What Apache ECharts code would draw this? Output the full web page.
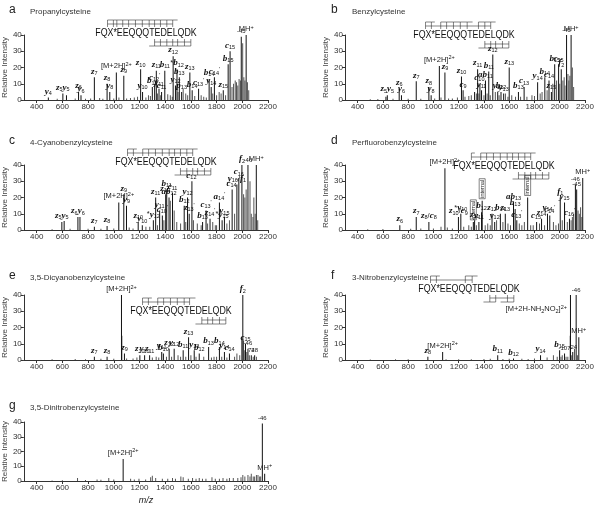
<!DOCTYPE html>
<html><head><meta charset="utf-8">
<script src="https://cdn.jsdelivr.net/npm/echarts@6/dist/echarts.min.js"></script>
<style>html,body{margin:0;padding:0;background:#fff}#c{width:600px;height:506px}</style>
</head><body><div id="c"></div>
<script>
// ---------- DATA ----------
const xTicks = [400, 600, 800, 1000, 1200, 1400, 1600, 1800, 2000, 2200];
const sequence = 'FQX*EEQQQTEDELQDK';

// a: Propanylcysteine
const aMz  = [491, 604, 632, 726, 745, 849, 948, 969, 1020, 1078, 1209, 1224, 1300, 1318, 1331, 1352, 1372, 1397, 1462, 1480, 1492, 1510, 1528, 1592, 1610, 1660, 1742, 1758, 1783, 1852, 1890, 1905, 1992, 2030];
const aInt = [1.5, 4, 3, 5, 3, 14, 10, 5, 17, 15, 19, 5, 8, 10, 18, 7, 5, 18, 27, 9, 19, 14, 5, 17, 6, 7, 13, 8, 14, 6, 22, 30, 39, 40];
const aLab = ["y_4","z_5y_5","","z_6","y_6","z_7","z_8","y_8","[M+2H]^2+","z_9","z_10","y_10","b_12","c_12^'","z_11","y_11","c_11","b_11","z_12","y_12","*b_12","b_13","p_13","z_13","b_14","c_13^'","b_14","y_14","c_14^'","z_15","b_15","c_15","-45","MH^+"];
const aMinMz  = [560, 700, 780, 820, 890, 915, 1000, 1040, 1100, 1130, 1160, 1185, 1250, 1270, 1285, 1340, 1365, 1420, 1440, 1455, 1500, 1540, 1560, 1575, 1630, 1680, 1700, 1720, 1770, 1800, 1820, 1835, 1870, 1920, 1932, 1945, 1955, 1965, 1975, 1985, 2003, 2012, 2020, 2040, 2050];
const aMinInt = [0.8, 1, 0.8, 1, 1.2, 0.8, 1, 1.5, 1, 1.2, 1.5, 2, 1.5, 3, 2.5, 4, 3, 3.5, 3, 2, 5, 7, 4, 3, 2.5, 3, 2, 1.5, 4, 3, 5, 4, 3, 8, 10, 12, 11, 9, 13, 12, 35, 14, 12, 11, 6];

// b: Benzylcysteine
const bMz  = [624, 635, 729, 747, 864, 964, 982, 1047, 1091, 1222, 1235, 1326, 1350, 1368, 1381, 1412, 1438, 1470, 1509, 1535, 1556, 1600, 1673, 1718, 1825, 1882, 1915, 1934, 1960, 1991, 2012, 2054, 2090];
const bInt = [2, 3, 7, 3, 11.5, 8, 3, 21, 17, 14.5, 6, 5, 19, 10, 6, 12, 17.5, 28, 5, 5, 4, 20, 5, 8, 11, 14, 12, 5, 22, 22, 19, 40, 40];
const bLab = ["", "z_5y_5", "z_6", "y_6", "z_7", "z_8", "y_8", "[M+2H]^2+", "z_9", "z_10", "c_9", "", "z_11", "c_10^'", "y_11", "ab_11", "b_11", "z_12", "y_12", "b_12", "y_13", "z_13", "b_13", "c_13", "y_14", "b_14", "c_14", "z_15", "b_15", "c_15", "f_2", "-45", "MH^+"];
const bMinMz  = [500, 560, 680, 800, 900, 1010, 1060, 1120, 1150, 1190, 1250, 1280, 1300, 1340, 1360, 1400, 1425, 1450, 1490, 1520, 1570, 1590, 1620, 1650, 1690, 1740, 1780, 1800, 1845, 1860, 1900, 1945, 1975, 2000, 2025, 2035, 2042, 2065, 2072, 2080, 2100, 2110];
const bMinInt = [0.5, 0.6, 0.8, 0.8, 0.8, 1, 1.5, 1, 1, 1.5, 2, 2.5, 3, 4, 4, 3, 4, 3, 5, 3, 4, 2, 3, 2, 2, 2, 3, 2.5, 4, 5, 6, 10, 12, 10, 12, 14, 9, 16, 12, 15, 20, 8];

// c: 4-Cyanobenzylcysteine
const cMz  = [596, 614, 721, 737, 849, 948, 1039, 1078, 1099, 1190, 1222, 1308, 1326, 1357, 1378, 1404, 1412, 1430, 1457, 1548, 1574, 1587, 1608, 1691, 1718, 1749, 1822, 1843, 1861, 1921, 1958, 1973, 1997, 2044, 2109];
const cInt = [5, 5.5, 8, 8, 2, 2.5, 17, 22, 15, 5, 3, 6, 20, 12, 9, 22, 25, 20, 23, 15, 20, 10, 30, 5, 12, 7, 17, 6, 8, 25, 28, 32, 40, 40, 40];
const cLab = ["z_5y_5","","z_6y_6","","z_7","z_8","[M+2H]^2+","z_9","y_9","z_10","y_10","*y_12","z_11","y_11","c_10^'","z_12^'","b_11","ab_12","c_11","b_12","y_12","z_13^'","c_12^'","b_13","c_13^'","z_14^'","a_14^'","*y_15","y_15","c_14^'","y_16/f_1","c_16","f_2","-46","MH^+"];
const cMinMz  = [520, 660, 800, 900, 1000, 1120, 1150, 1250, 1280, 1340, 1390, 1440, 1470, 1490, 1520, 1560, 1620, 1650, 1680, 1730, 1770, 1790, 1800, 1880, 1900, 1940, 2010, 2020, 2030, 2060, 2070, 2083, 2090, 2100, 2120];
const cMinInt = [0.5, 0.8, 0.8, 0.8, 1, 1.5, 1, 2, 2, 3, 6, 18, 12, 5, 4, 5, 6, 4, 3, 4, 5, 3, 3, 4, 6, 10, 22, 20, 25, 30, 10, 8, 20, 10, 6];

// d: Perfluorobenzylcysteine
const dMz  = [734, 864, 964, 1091, 1198, 1217, 1316, 1326, 1360, 1381, 1386, 1464, 1485, 1530, 1569, 1634, 1647, 1660, 1746, 1817, 1856, 1903, 1921, 2004, 2038, 2077, 2124, 2134, 2182];
const dInt = [3, 8, 5, 38, 8, 10, 5, 6, 5, 11, 18, 10, 5, 10, 10, 17, 13, 6, 20, 5, 7, 10, 9, 20, 17, 7, 28, 25, 32];
const dLab = ["z_6","z_7","z_8/c_8","[M+2H]^2+","z_10/c_9","*y_10","[internal]","z_11","y_11","b_12","[internal]","z_12","y_12","b_14","z_13","ab_13","b_13","c_13^'","[internal]","c_15^'","z_14","y_14","c_14^'","f_1","y_15","c_16^'","-46","-45","MH^+"];
const dMinMz  = [480, 600, 820, 900, 1000, 1060, 1110, 1150, 1240, 1280, 1300, 1340, 1410, 1430, 1450, 1500, 1550, 1590, 1610, 1680, 1700, 1720, 1770, 1790, 1840, 1880, 1950, 1970, 1990, 2020, 2060, 2090, 2100, 2110, 2145, 2155, 2165, 2175];
const dMinInt = [0.5, 0.6, 0.8, 1, 1, 2, 1.5, 1, 2, 3, 2, 3, 3, 4, 3, 6, 5, 4, 3, 4, 3, 5, 3, 3, 4, 3, 5, 3, 4, 6, 5, 6, 8, 10, 12, 10, 14, 8];

// e: 3,5-Dicyanobenzylcysteine
const eMz  = [849, 948, 1060, 1083, 1203, 1240, 1279, 1373, 1386, 1431, 1470, 1540, 1582, 1626, 1665, 1738, 1822, 1861, 1900, 2004, 2025, 2044, 2070, 2096];
const eInt = [2, 2, 40, 4, 3, 3, 3, 5, 4, 7, 7, 6, 14, 6, 4, 8, 8, 5, 4, 40, 10, 7, 3, 3];
const eLab = ["z_7","z_8","[M+2H]^2+","z_9","z_10","y_10","z_11","y_11","b_10","z_12","y_12","b_11","z_13","y_13","b_12","b_13","b_14","y_14","c_14","f_2","c_15","-46","74","28"];
const eMinMz  = [520, 700, 780, 900, 1000, 1063, 1100, 1150, 1180, 1300, 1330, 1350, 1410, 1450, 1500, 1520, 1560, 1600, 1640, 1700, 1760, 1780, 1800, 1840, 1880, 1940, 1958, 1980, 1995, 2010, 2015, 2035, 2055, 2085, 2110];
const eMinInt = [0.5, 0.6, 0.5, 0.8, 0.8, 15, 1, 1, 1.5, 1.5, 2, 1.5, 2, 2, 3, 2, 2, 3, 2, 2, 1.5, 2, 2, 2, 1.5, 2, 4, 3, 14, 12, 6, 5, 3, 2, 2];

// f: 3-Nitrobenzylcysteine
const fMz  = [956, 1073, 1509, 1634, 1848, 1999, 2038, 2085, 2103, 2130, 2151];
const fInt = [2, 5, 3, 1, 3, 6, 4, 40, 5, 40, 14];
const fLab = ["z_8","[M+2H]^2+","b_11","b_12","y_14","b_15","-107","[M+2H-NH_2NO_2]^2+","-24","-46","MH^+"];
const fMinMz  = [500, 700, 800, 1100, 1200, 1300, 1400, 1450, 1550, 1600, 1700, 1750, 1800, 1900, 1950, 1980, 2010, 2020, 2050, 2064, 2083, 2095, 2117, 2140];
const fMinInt = [0.3, 0.4, 0.4, 0.5, 0.5, 0.5, 0.6, 0.8, 0.6, 0.8, 0.8, 0.6, 1, 1.5, 3, 2, 2, 3, 2, 2, 15, 3, 7, 3];

// g: 3,5-Dinitrobenzylcysteine
const gMz  = [1073, 2156, 2174];
const gInt = [15, 39, 5];
const gLab = ["[M+2H]^2+", "-46", "MH^+"];
const gMinMz  = [520, 600, 718, 780, 870, 900, 961, 1000, 1131, 1160, 1196, 1248, 1287, 1300, 1326, 1378, 1420, 1457, 1480, 1522, 1540, 1580, 1613, 1640, 1665, 1690, 1717, 1764, 1790, 1822, 1850, 1880, 1900, 1930, 1965, 1990, 2004, 2020, 2044, 2060, 2070, 2085, 2096, 2110, 2122, 2135, 2143];
const gMinInt = [0.4, 0.5, 2, 0.6, 1, 0.8, 2, 1, 1.5, 1, 1.5, 1, 2.5, 3.5, 2, 1.5, 1.5, 2, 1.5, 3, 2.5, 1.5, 2, 1.5, 2, 1.5, 1.5, 2.5, 1.5, 1.5, 2, 1.5, 2, 2, 2, 2.5, 4, 3, 4, 3, 5, 3, 3, 4, 4, 3, 3];

// cleavage marks on the sequence (boundary after residue n)
const aCutsTop = [2,3,4,5,6,7,8,9,10,11,12,13], aCutsBot = [10,11,12,13,14,15,16];
const bCutsTop = [2,3,5,6,7,8,9,11,12,13],       bCutsBot = [12,13,14,15,16];
const cCutsTop = [2,3,5,6,7,8,9,10,11,12,13],    cCutsBot = [11,12,13,14,15,16];
const dCutsTop = [3,5,6,7,8,9,10,11,12,13],      dCutsBot = [11,12,13,14,15,16];
const eCutsTop = [2,3,5,6,7,8,9,10],             eCutsBot = [12,13,14,15,16];
const fCutsTop = [2,3,8,9],                      fCutsBot = [12,13,15,16];

// ---------- LAYOUT / STYLE ----------
const panels = [
  {id:'a', name:'Propanylcysteine',          mz:aMz, it:aInt, lab:aLab, mmz:aMinMz, mit:aMinInt, top:aCutsTop, bot:aCutsBot, row:0, col:0, seq:[146,33]},
  {id:'b', name:'Benzylcysteine',            mz:bMz, it:bInt, lab:bLab, mmz:bMinMz, mit:bMinInt, top:bCutsTop, bot:bCutsBot, row:0, col:1, seq:[464,35]},
  {id:'c', name:'4-Cyanobenzylcysteine',     mz:cMz, it:cInt, lab:cLab, mmz:cMinMz, mit:cMinInt, top:cCutsTop, bot:cCutsBot, row:1, col:0, seq:[166,162]},
  {id:'d', name:'Perfluorobenzylcysteine',   mz:dMz, it:dInt, lab:dLab, mmz:dMinMz, mit:dMinInt, top:dCutsTop, bot:dCutsBot, row:1, col:1, seq:[504,166]},
  {id:'e', name:'3,5-Dicyanobenzylcysteine', mz:eMz, it:eInt, lab:eLab, mmz:eMinMz, mit:eMinInt, top:eCutsTop, bot:eCutsBot, row:2, col:0, seq:[181,311]},
  {id:'f', name:'3-Nitrobenzylcysteine',     mz:fMz, it:fInt, lab:fLab, mmz:fMinMz, mit:fMinInt, top:fCutsTop, bot:fCutsBot, row:2, col:1, seq:[469,289]},
  {id:'g', name:'3,5-Dinitrobenzylcysteine', mz:gMz, it:gInt, lab:gLab, mmz:gMinMz, mit:gMinInt, top:null, bot:null, row:3, col:0, seq:null}
];
const rowTop = [35, 165, 295, 422];
const rowTitleY = [10, 141, 276, 406];
const gridH = 65;
const colLeft = [23, 345], colW = [245, 240];
const labelPlacement = { f: { 7: {position:[-3,'22%'], align:'right', verticalAlign:'middle'} } };

const FONT = 'Liberation Sans, Arial, Helvetica, sans-serif';
const richStyles = {
  ion: {fontFamily:'Liberation Serif, Times New Roman, serif', fontWeight:'bold', fontStyle:'italic', fontSize:9, lineHeight:10, color:'#111'},
  sub: {fontFamily:FONT, fontSize:5.5, lineHeight:6, verticalAlign:'bottom', color:'#111'},
  sup: {fontFamily:FONT, fontSize:5.5, lineHeight:6, verticalAlign:'top', color:'#111'},
  txt: {fontFamily:FONT, fontSize:7.5, lineHeight:10, color:'#222'},
  num: {fontFamily:FONT, fontSize:6, lineHeight:8, color:'#222'},
  box: {fontFamily:FONT, fontSize:5.5, lineHeight:7, color:'#222', borderColor:'#333', borderWidth:0.6, padding:[0,1]}
};

function toRich(spec) {
  if (/^[-+]?\d+$/.test(spec)) return '{num|' + spec + '}';
  let out = '', i = 0;
  while (i < spec.length) {
    const ch = spec[i];
    let j, s = '';
    if (ch === '_') { j = i + 1; while (j < spec.length && /[0-9]/.test(spec[j])) { s += spec[j]; j++; } out += '{sub|' + s + '}'; }
    else if (ch === '^') { j = i + 1; while (j < spec.length && /[0-9+'\-]/.test(spec[j])) { s += spec[j]; j++; } out += '{sup|' + s + '}'; }
    else if (/[a-z]/.test(ch)) { j = i; while (j < spec.length && /[a-z]/.test(spec[j])) { s += spec[j]; j++; } out += '{ion|' + s + '}'; }
    else { j = i; while (j < spec.length && !/[a-z_^]/.test(spec[j])) { s += spec[j]; j++; } out += '{txt|' + s + '}'; }
    i = j;
  }
  return out;
}

const grids = [], xAxes = [], yAxes = [], series = [], graphics = [];
const measureCtx = document.createElement('canvas').getContext('2d');
const SEQ_SIZE = 10.5, SEQ_SX = 0.84;
const seqFont = SEQ_SIZE + 'px ' + FONT;
measureCtx.font = seqFont;

panels.forEach((p, k) => {
  const left = colLeft[p.col], top = rowTop[p.row];
  grids.push({left: left, top: top, width: colW[p.col], height: gridH});
  const isLast = p.id === 'g';
  xAxes.push({
    gridIndex: k, type: 'value', min: 300, max: 2200,
    axisLine: {show: true, lineStyle: {color: '#333', width: 1}},
    axisTick: {show: true, customValues: xTicks, length: 3, lineStyle: {color: '#333'}},
    axisLabel: {customValues: xTicks, fontSize: 8, color: '#333', margin: 3, fontFamily: FONT, formatter: v => String(v)},
    splitLine: {show: false},
    name: isLast ? 'm/z' : '', nameLocation: 'middle', nameGap: 15,
    nameTextStyle: {fontStyle: 'italic', fontSize: 9, color: '#222', fontFamily: FONT}
  });
  yAxes.push({
    gridIndex: k, type: 'value', min: 0, max: 40, interval: 10,
    axisLine: {show: true, lineStyle: {color: '#333', width: 1}},
    axisTick: {show: true, length: 3, lineStyle: {color: '#333'}},
    axisLabel: {fontSize: 8, color: '#333', margin: 2, fontFamily: FONT},
    splitLine: {show: false},
    name: 'Relative Intensity', nameLocation: 'middle', nameGap: 14,
    nameTextStyle: {fontSize: 8, color: '#444', fontFamily: FONT}
  });
  const data = [];
  p.mmz.forEach((m, i) => data.push({value: [m, p.mit[i]], itemStyle: {color: '#555'}}));
  p.mz.forEach((m, i) => {
    const item = {value: [m, p.it[i]], itemStyle: {color: '#111'}};
    const l = p.lab[i];
    if (l) {
      if (l === '[internal]') {
        item.label = {show: true, position: 'top', rotate: 90, align: 'left', verticalAlign: 'middle', distance: 2,
          formatter: () => '{box|internal}', rich: richStyles};
      } else {
        const txt = toRich(l);
        item.label = {show: true, position: 'top', distance: 1, formatter: () => txt, rich: richStyles};
        const pl = labelPlacement[p.id] && labelPlacement[p.id][i];
        if (pl) Object.assign(item.label, pl);
      }
    }
    data.push(item);
  });
  series.push({
    type: 'bar', xAxisIndex: k, yAxisIndex: k, barWidth: 0.9, data: data,
    label: {show: false, rich: richStyles}, clip: false, silent: true
  });

  // panel letter + compound name
  graphics.push({type: 'text', x: left - 14, y: rowTitleY[p.row], style: {text: p.id, font: '12px ' + FONT, fill: '#222', verticalAlign: 'middle'}});
  graphics.push({type: 'text', x: left + 7, y: rowTitleY[p.row] + 2, style: {text: p.name, font: '8px ' + FONT, fill: '#333', verticalAlign: 'middle'}});

  // sequence with cleavage marks
  if (p.seq) {
    const [cx, cy] = p.seq;
    const totalW = measureCtx.measureText(sequence).width;
    const bx = n => cx + (measureCtx.measureText(sequence.slice(0, n)).width - totalW / 2) * SEQ_SX;
    const cw = n => measureCtx.measureText(sequence[n] || 'E').width * SEQ_SX;
    graphics.push({type: 'text', x: cx, y: cy, scaleX: SEQ_SX, style: {text: sequence, font: seqFont, fill: '#111', align: 'center', verticalAlign: 'middle'}});
    const ls = {stroke: '#333', lineWidth: 0.6, fill: null};
    if (p.top.length) {
      graphics.push({type: 'polyline', shape: {points: [[bx(p.top[0]), cy - 9], [bx(p.top[p.top.length - 1]), cy - 9]]}, style: ls});
      p.top.forEach(n => {
        const x = bx(n);
        graphics.push({type: 'polyline', shape: {points: [[x, cy - 6], [x, cy - 13], [x + cw(n), cy - 13]]}, style: ls});
      });
    }
    if (p.bot.length) {
      graphics.push({type: 'polyline', shape: {points: [[bx(p.bot[0]), cy + 9], [bx(p.bot[p.bot.length - 1]), cy + 9]]}, style: ls});
      p.bot.forEach(n => {
        const x = bx(n);
        graphics.push({type: 'polyline', shape: {points: [[x, cy + 6], [x, cy + 13], [x - cw(n - 1), cy + 13]]}, style: ls});
      });
    }
  }
});

const chart = echarts.init(document.getElementById('c'), null, {renderer: 'canvas'});
chart.setOption({
  animation: false,
  backgroundColor: '#fff',
  grid: grids, xAxis: xAxes, yAxis: yAxes, series: series,
  graphic: {elements: graphics}
});
</script></body></html>
